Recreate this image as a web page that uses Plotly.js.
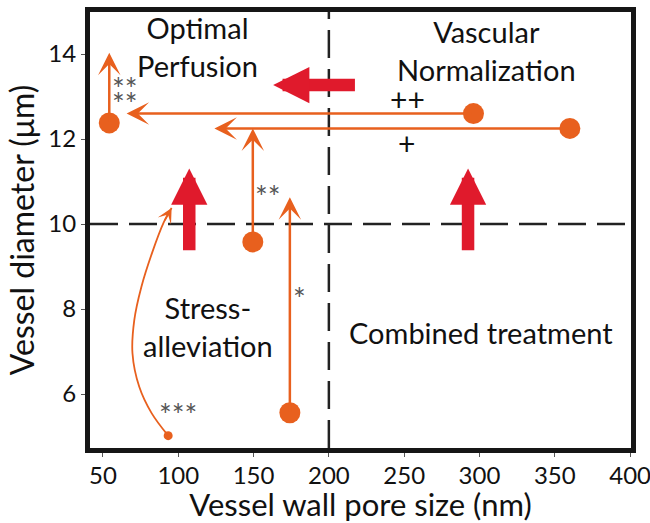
<!DOCTYPE html>
<html><head><meta charset="utf-8">
<script src="https://cdn.plot.ly/plotly-3.0.1.min.js"></script>
<style>html,body{margin:0;padding:0;background:#fff;} #chart{width:650px;height:523px;}</style>
</head><body><div id="chart"></div>
<script>
// Orange treatment arrows: start dot and arrow tip
const dotX = [296, 360, 54.2, 149.5, 174.1];
const dotY = [12.6, 12.25, 12.38, 9.58, 5.56];
const tipX = [65.7, 124, 54.2, 149.5, 174.1];
const tipY = [12.6, 12.25, 14.03, 12.25, 10.63];

// curved arrow (start dot -> tip)
const curveX = [93.3, 82.3, 74.1, 69.6, 70.8, 75.5, 82.5, 90.5, 95.6];
const curveY = [5.02, 5.55, 6.17, 6.96, 7.74, 8.52, 9.31, 10.05, 10.38];

// big red arrows
const redTailX = [218.3, 107.3, 292.4];
const redTailY = [13.27, 9.35, 9.35];
const redTipX = [163, 107.3, 292.4];
const redTipY = [13.27, 11.31, 11.31];

// significance marks
const markText = ['**', '**', '++', '+', '**', '*', '***'];
const markX = [64.6, 64.6, 252.4, 251.5, 159.5, 180.3, 100];
const markY = [13.19, 12.85, 12.94, 11.9, 10.65, 8.25, 5.52];
const markColor = ['#555', '#555', '#111', '#111', '#555', '#555', '#555'];

// quadrant labels
const regionText = ['Optimal<br>Perfusion', 'Vascular<br>Normalization', 'Stress-<br>alleviation', 'Combined treatment'];
const regionX = [113, 304.6, 119.9, 301.3];
const regionY = [14.18, 14.09, 7.59, 7.44];

// thresholds and ticks
const xThreshold = [200];
const yThreshold = [10];
const xTicks = [50, 100, 150, 200, 250, 300, 350, 400];
const yTicks = [6, 8, 10, 12, 14];

const ORANGE = '#e8601e';
const RED = '#e01a2c';
const FONT = 'Lato, sans-serif';

const traces = [
  {
    x: curveX, y: curveY, type: 'scatter', mode: 'lines',
    line: {color: ORANGE, width: 1.8, shape: 'spline', smoothing: 1},
    hoverinfo: 'skip', showlegend: false
  },
  {
    x: dotX, y: dotY, type: 'scatter', mode: 'markers',
    marker: {color: ORANGE, size: 21, line: {width: 0}},
    showlegend: false
  },
  {
    x: [curveX[0]], y: [curveY[0]], type: 'scatter', mode: 'markers',
    marker: {color: ORANGE, size: 9, line: {width: 0}},
    showlegend: false
  }
];

const annotations = [];
for (let i = 0; i < dotX.length; i++) {
  annotations.push({
    x: tipX[i], y: tipY[i], ax: dotX[i], ay: dotY[i],
    xref: 'x', yref: 'y', axref: 'x', ayref: 'y',
    text: '', showarrow: true, arrowhead: 3, arrowsize: 1.5, arrowwidth: 2.5,
    arrowcolor: ORANGE, standoff: 0, startstandoff: 0
  });
}
const n = curveX.length;
annotations.push({
  x: curveX[n - 1], y: curveY[n - 1], ax: curveX[n - 2], ay: curveY[n - 2],
  xref: 'x', yref: 'y', axref: 'x', ayref: 'y',
  text: '', showarrow: true, arrowhead: 3, arrowsize: 1.4, arrowwidth: 1.8,
  arrowcolor: ORANGE, standoff: 0, startstandoff: 0
});
for (let i = 0; i < redTipX.length; i++) {
  annotations.push({
    x: redTipX[i], y: redTipY[i], ax: redTailX[i], ay: redTailY[i],
    xref: 'x', yref: 'y', axref: 'x', ayref: 'y',
    text: '', showarrow: true, arrowhead: 2, arrowsize: 0.58, arrowwidth: 12.5,
    arrowcolor: RED, standoff: 0, startstandoff: 0
  });
}
for (let i = 0; i < markText.length; i++) {
  annotations.push({
    x: markX[i], y: markY[i], xref: 'x', yref: 'y', text: markText[i],
    showarrow: false, font: {family: FONT, size: 30, color: markColor[i]}
  });
}
for (let i = 0; i < regionText.length; i++) {
  annotations.push({
    x: regionX[i], y: regionY[i], xref: 'x', yref: 'y', text: regionText[i],
    showarrow: false, font: {family: FONT, size: 29, color: '#111'}
  });
}

const shapes = [
  {type: 'line', xref: 'x', yref: 'paper', x0: xThreshold[0], x1: xThreshold[0], y0: 0, y1: 1,
   line: {color: '#222', width: 2.5, dash: '28px,11px'}, layer: 'below'},
  {type: 'line', xref: 'paper', yref: 'y', x0: 0, x1: 1, y0: yThreshold[0], y1: yThreshold[0],
   line: {color: '#222', width: 2.5, dash: '28px,11px'}, layer: 'below'}
];

const axisCommon = {
  showline: true, linewidth: 5, linecolor: '#161616', mirror: true,
  showgrid: false, zeroline: false, ticks: 'outside', ticklen: 4, tickwidth: 1,
  tickcolor: '#555', tickfont: {family: FONT, size: 24, color: '#111'},
  ticklabeloverflow: 'allow'
};

const layout = {
  width: 650, height: 523,
  margin: {l: 90, r: 19, t: 12, b: 75},
  paper_bgcolor: '#fff', plot_bgcolor: '#fff',
  font: {family: FONT},
  showlegend: false,
  xaxis: Object.assign({}, axisCommon, {
    range: [41.4, 400.6], tickvals: xTicks, ticktext: xTicks.map(String),
    ticklabelstandoff: -2,
    title: {text: '\u2003\u2002Vessel wall pore size (nm)', font: {family: FONT, size: 31, color: '#111'}, standoff: 5}
  }),
  yaxis: Object.assign({}, axisCommon, {
    range: [4.73, 14.99], tickvals: yTicks, ticktext: yTicks.map(String),
    title: {text: '\u2003\u2003\u2002Vessel diameter (μm)', font: {family: FONT, size: 32, color: '#111'}, standoff: 6}
  }),
  shapes: shapes,
  annotations: annotations
};

Plotly.newPlot('chart', traces, layout, {displayModeBar: false, staticPlot: true});
</script>
</body></html>
